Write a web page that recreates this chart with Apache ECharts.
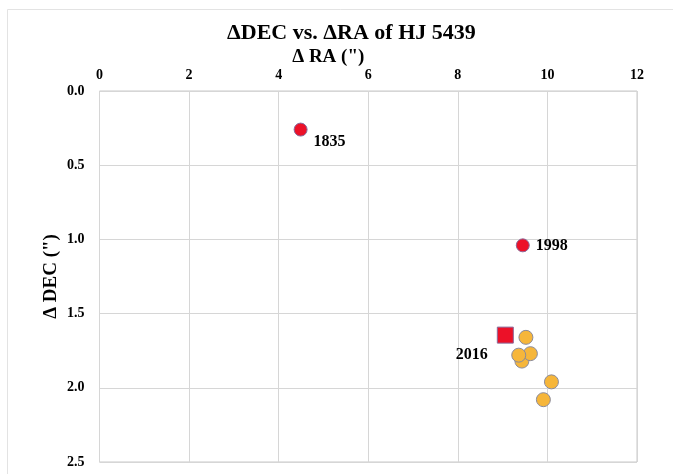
<!DOCTYPE html>
<html>
<head>
<meta charset="utf-8">
<script src="https://cdn.jsdelivr.net/npm/echarts@6/dist/echarts.min.js"></script>
<style>
  html, body { margin: 0; padding: 0; background: #fff; }
  #main { width: 673px; height: 474px; }
</style>
</head>
<body>
<div id="main"></div>
<script>
// measured positions, arcsec
var earlyYears = ['1835', '1998']
var earlyRA = [4.49, 9.45]
var earlyDEC = [0.26, 1.04]

var lastYear = ['2016']
var lastRA = [9.06]
var lastDEC = [1.645]

var otherRA = [9.43, 9.52, 9.62, 9.36, 10.09, 9.91]
var otherDEC = [1.82, 1.66, 1.77, 1.78, 1.96, 2.08]

var xTicks = [0, 2, 4, 6, 8, 10, 12]
var yTicks = [0.0, 0.5, 1.0, 1.5, 2.0, 2.5]

var font = '"Liberation Serif", "DejaVu Serif", serif'

function pairs(xs, ys) {
  return xs.map(function (x, i) { return [x, ys[i]] })
}

var chart = echarts.init(document.getElementById('main'))
chart.setOption({
  animation: false,
  title: {
    text: 'ΔDEC vs. ΔRA of HJ 5439',
    left: 222,
    top: 17,
    textStyle: { fontFamily: font, fontSize: 22, fontWeight: 'bold', color: '#000' }
  },
  graphic: [{
    type: 'rect',
    shape: { x: 7.5, y: 9.5, width: 700, height: 500 },
    style: { fill: 'none', stroke: '#e3e3e3', lineWidth: 1 },
    silent: true
  }],
  grid: { left: 99.5, right: 36, top: 91, bottom: 12, show: true, borderColor: '#c8c8c8', borderWidth: 1 },
  xAxis: {
    type: 'value',
    position: 'top',
    min: xTicks[0],
    max: xTicks[xTicks.length - 1],
    interval: 2,
    name: 'Δ RA (")',
    nameLocation: 'middle',
    nameGap: 24,
    nameMoveOverlap: false,
    nameTextStyle: {
      fontFamily: font, fontSize: 19, fontWeight: 'bold', color: '#000',
      padding: [0, 80, 0, 0]
    },
    axisLine: { show: false },
    axisTick: { show: false },
    axisLabel: { fontFamily: font, fontSize: 14, fontWeight: 'bold', color: '#000', margin: 9 },
    splitLine: { show: true, lineStyle: { color: '#d6d6d6', width: 1 } }
  },
  yAxis: {
    type: 'value',
    inverse: true,
    min: yTicks[0],
    max: yTicks[yTicks.length - 1],
    interval: 0.5,
    name: 'Δ DEC (")',
    nameLocation: 'middle',
    nameGap: 39,
    nameMoveOverlap: false,
    nameRotate: 90,
    nameTextStyle: { fontFamily: font, fontSize: 19, fontWeight: 'bold', color: '#000' },
    axisLine: { show: false },
    axisTick: { show: false },
    axisLabel: {
      fontFamily: font, fontSize: 14, fontWeight: 'bold', color: '#000', margin: 15,
      formatter: function (v) { return v.toFixed(1) }
    },
    splitLine: { show: true, lineStyle: { color: '#d6d6d6', width: 1 } }
  },
  series: [
    {
      type: 'scatter',
      data: pairs(otherRA, otherDEC),
      symbol: 'circle',
      symbolSize: 14,
      itemStyle: { color: '#f6b63a', borderColor: '#8a8a9a', borderWidth: 1, opacity: 1 }
    },
    {
      type: 'scatter',
      data: pairs(lastRA, lastDEC).map(function (p, i) { return { value: p, name: lastYear[i] } }),
      symbol: 'rect',
      symbolSize: 16,
      itemStyle: { color: '#ec1128', borderColor: '#8a6a9a', borderWidth: 1, opacity: 1 },
      label: {
        show: true, position: 'left', distance: 9, offset: [0, 20],
        formatter: '{b}',
        fontFamily: font, fontSize: 16, fontWeight: 'bold', color: '#000'
      }
    },
    {
      type: 'scatter',
      data: pairs(earlyRA, earlyDEC).map(function (p, i) { return { value: p, name: earlyYears[i] } }),
      symbol: 'circle',
      symbolSize: 13,
      itemStyle: { color: '#ec1128', borderColor: '#8a6a9a', borderWidth: 1, opacity: 1 },
      label: {
        show: true, position: 'right', distance: 6,
        formatter: '{b}',
        fontFamily: font, fontSize: 16, fontWeight: 'bold', color: '#000'
      },
      labelLayout: function (p) {
        return p.dataIndex === 0 ? { dy: 12 } : { dy: 1 }
      }
    }
  ]
})
</script>
</body>
</html>
